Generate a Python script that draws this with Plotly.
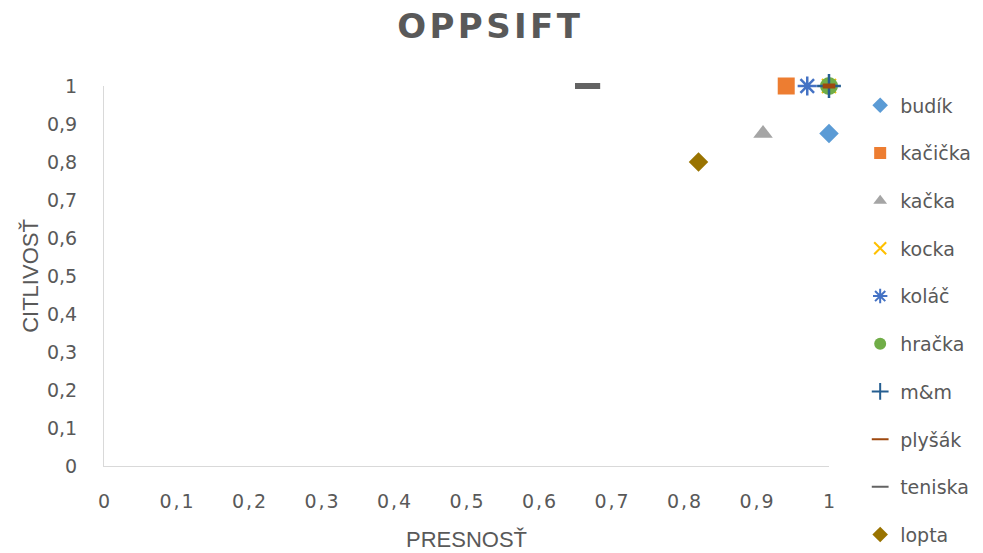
import plotly.graph_objects as go

# Precision / sensitivity per object
names = ["budík", "kačička", "kačka", "kocka", "koláč", "hračka", "m&m", "plyšák", "teniska", "lopta"]
presnost = [1.0, 0.941, 0.909, 1.0, 0.97, 1.0, 1.0, 1.0, 0.667, 0.82]
citlivost = [0.875, 1.0, 0.875, 1.0, 1.0, 1.0, 1.0, 1.0, 1.0, 0.8]
x_ticks = [0, 0.1, 0.2, 0.3, 0.4, 0.5, 0.6, 0.7, 0.8, 0.9, 1]
y_ticks = [0, 0.1, 0.2, 0.3, 0.4, 0.5, 0.6, 0.7, 0.8, 0.9, 1]

colors = ["#5B9BD5", "#ED7D31", "#A5A5A5", "#FFC000", "#4472C4",
          "#70AD47", "#255E91", "#9E480E", "#636363", "#997300"]
symbols = ["diamond", "square", "triangle-up", "x-thin-open", "asterisk-open",
           "circle", "cross-thin-open", "line-ew-open", "line-ew-open", "diamond"]
sizes = [15, 17, 17, 14, 16, 18, 17, 9, 18, 15]
line_w = [0, 0, 0, 2, 2.5, 0, 2.5, 5, 6, 0]

GRAY = "#595959"
TICK_FONT = dict(family="DejaVu Sans, sans-serif", size=19, color=GRAY)
TITLE_FONT = dict(family="Liberation Sans Narrow, Arial Narrow, Liberation Sans, sans-serif",
                  size=22, color=GRAY)


def fmt(v, sep=","):
    return ("%g" % v).replace(".", sep)


fig = go.Figure()
for i, n in enumerate(names):
    fig.add_trace(go.Scatter(
        x=[presnost[i]], y=[citlivost[i]], mode="markers", name=n,
        legendgroup=n, cliponaxis=False,
        marker=dict(symbol=symbols[i], size=sizes[i], color=colors[i],
                    line=dict(color=colors[i], width=line_w[i])),
    ))

fig.update_layout(
    width=983, height=553,
    margin=dict(l=104, r=154, t=86, b=87, autoexpand=False),
    paper_bgcolor="white", plot_bgcolor="white",
    font=TICK_FONT,
    title=dict(text="\u200aO\u200aP\u200aP\u200aS\u200aI\u200aF\u200aT\u200a",
               x=0.497, xanchor="center", y=0.952, yanchor="middle",
               font=dict(size=34, color=GRAY, family="DejaVu Sans, sans-serif", weight="bold")),
    legend=dict(x=1.043, xanchor="left", y=0.999, yanchor="top", maxheight=700,
                font=dict(size=19, color=GRAY, family="DejaVu Sans, sans-serif"),
                tracegroupgap=20, itemsizing="constant", bgcolor="rgba(0,0,0,0)"),
    xaxis=dict(range=[0, 1], tickvals=x_ticks,
               ticktext=[fmt(v, "\u200a,\u200a") for v in x_ticks],
               showgrid=False, zeroline=False, showline=True, linecolor="#D9D9D9", linewidth=1,
               ticks="", ticklabelstandoff=18, automargin=False, tickfont=TICK_FONT,
               title=dict(text="PRESNOSŤ", font=TITLE_FONT, standoff=20)),
    yaxis=dict(range=[0, 1], tickvals=y_ticks, ticktext=[fmt(v) for v in y_ticks],
               showgrid=False, zeroline=False, showline=True, linecolor="#D9D9D9", linewidth=1,
               ticks="", ticklabelstandoff=22, automargin=False, tickfont=TICK_FONT,
               title=dict(text="CITLIVOSŤ", font=TITLE_FONT, standoff=2)),
)

fig.write_html("out.html")
